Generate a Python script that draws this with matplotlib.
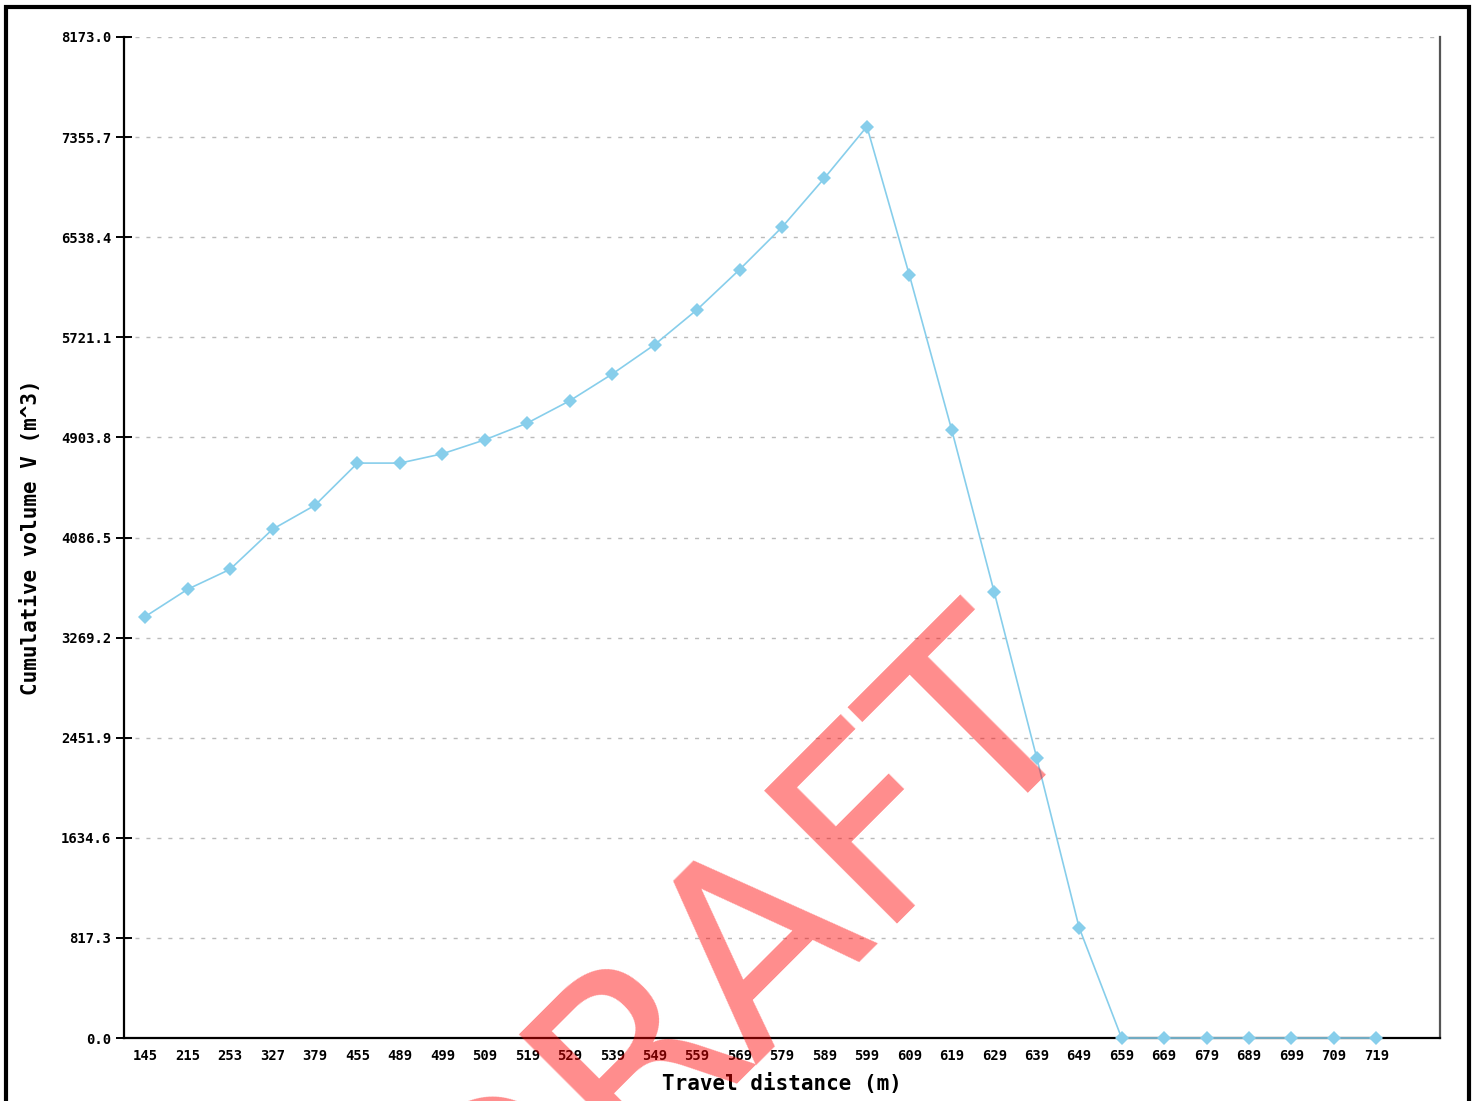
import numpy as np
import matplotlib
matplotlib.use("Agg")
import matplotlib.pyplot as plt
from matplotlib.patches import Rectangle

# travel distance categories (m) and cumulative volume (m^3)
distances = ["145", "215", "253", "327", "379", "455", "489", "499", "509", "519",
             "529", "539", "549", "559", "569", "579", "589", "599", "609", "619",
             "629", "639", "649", "659", "669", "679", "689", "699", "709", "719"]
volumes = [3441, 3664, 3827, 4154, 4350, 4694, 4694, 4770, 4884, 5021,
           5203, 5421, 5661, 5947, 6274, 6620, 7021, 7442, 6230, 4962,
           3639, 2288, 901, 0, 0, 0, 0, 0, 0, 0]
y_step = 817.3
y_ticks = [round(y_step * i, 1) for i in range(11)]

W, H = 1476, 1101
fig = plt.figure(figsize=(W / 100, H / 100), dpi=100)
fig.patch.set_facecolor("white")

ax = fig.add_axes([124 / W, 1 - 1038 / H, (1440 - 124) / W, (1038 - 37) / H])
x = np.arange(len(distances))

ax.plot(x, volumes, color="#87ceeb", lw=1.2, marker="D", ms=7.5,
        markeredgewidth=0, zorder=3, clip_on=False)

ax.set_xlim(-0.5, len(distances) + 0.5)
ax.set_ylim(0, y_ticks[-1])
ax.set_xticks(x)
ax.set_xticklabels(distances)
ax.set_yticks(y_ticks)
ax.set_yticklabels([f"{t:.1f}" for t in y_ticks])

mono = "DejaVu Sans Mono"
for lab in ax.get_xticklabels() + ax.get_yticklabels():
    lab.set_fontfamily(mono)
    lab.set_fontsize(10)
    lab.set_fontweight("bold")
ax.tick_params(axis="x", length=0, pad=8)
ax.tick_params(axis="y", direction="inout", length=12, width=1.4, pad=3)

for t in y_ticks:
    ax.axhline(t, color="#bbbbbb", lw=1.0, linestyle=(0, (2.9, 5.0)), zorder=1)

ax.spines["top"].set_visible(False)
ax.spines["left"].set_linewidth(1.6)
ax.spines["bottom"].set_linewidth(1.6)
ax.spines["right"].set_color("#555555")
ax.spines["right"].set_linewidth(1.6)

ax.set_xlabel("Travel distance (m)", fontfamily=mono, fontsize=15, fontweight="bold")
ax.set_ylabel("Cumulative volume V (m^3)", fontfamily=mono, fontsize=15,
              fontweight="bold", va="center")
ax.xaxis.set_label_coords(0.5, (1038 - 1073) / 1001)
ax.yaxis.set_label_coords((31 - 124) / 1316, 0.5)

# frame around the whole image
fig.patches.append(Rectangle((6 / W, -0.05), (1469 - 6) / W, 1.05 - 7 / H,
                             transform=fig.transFigure, fill=False,
                             edgecolor="black", lw=3.0, zorder=10))

# watermark
fig.text(787 / W, 1 - 1008 / H, "DRAFT", fontsize=186, color="red", alpha=0.45,
         rotation=45, rotation_mode="anchor", ha="center", va="baseline",
         fontfamily="DejaVu Sans", zorder=20)

fig.savefig("out.png", dpi=100)
